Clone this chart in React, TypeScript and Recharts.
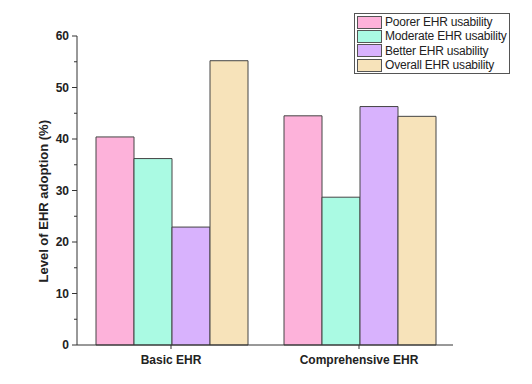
import React from 'react';
import { BarChart, Bar, XAxis, YAxis } from 'recharts';

const categories = ['Basic EHR', 'Comprehensive EHR'];
const poorer = [40.4, 44.5];
const moderate = [36.2, 28.7];
const better = [22.9, 46.3];
const overall = [55.2, 44.4];
const yTicks = [0, 5, 10, 15, 20, 25, 30, 35, 40, 45, 50, 55, 60];

const series = [
  { key: 'poorer', name: 'Poorer EHR usability', color: '#FDB2DA' },
  { key: 'moderate', name: 'Moderate EHR usability', color: '#AAFAE3' },
  { key: 'better', name: 'Better EHR usability', color: '#D8B2FD' },
  { key: 'overall', name: 'Overall EHR usability', color: '#F7E3BA' },
];

const data = categories.map((c, i) => ({
  category: c,
  poorer: poorer[i],
  moderate: moderate[i],
  better: better[i],
  overall: overall[i],
}));

const FONT = '"Liberation Sans", Arial, sans-serif';
const AXIS = '#333';

const YTick = (props: any) => {
  const { x, y, payload } = props;
  const major = payload.value % 10 === 0;
  return (
    <g>
      <line x1={x} x2={x - (major ? 5 : 3)} y1={y} y2={y} stroke={AXIS} />
      {major && (
        <text x={x - 8} y={y + 4} textAnchor="end" fontSize={12} fontWeight="bold" fill="#222" fontFamily={FONT}>
          {payload.value}
        </text>
      )}
    </g>
  );
};

const LegendBox = () => (
  <div
    style={{
      position: 'absolute',
      left: 354,
      top: 13,
      border: '1px solid #555',
      padding: '1px 2px',
      background: '#fff',
      fontFamily: FONT,
      fontSize: 12,
      color: '#222',
      width: 150,
    }}
  >
    {series.map((s) => (
      <div key={s.key} style={{ display: 'flex', alignItems: 'center', height: 14.3 }}>
        <span
          style={{
            display: 'inline-block',
            width: 25,
            height: 13,
            background: s.color,
            border: '1px solid #555',
            boxSizing: 'border-box',
            marginRight: 3,
          }}
        />
        <span style={{ letterSpacing: -0.2 }}>{s.name}</span>
      </div>
    ))}
  </div>
);

export default function App() {
  return (
    <div style={{ position: 'absolute', left: 0, top: 0, width: 532, height: 384, background: '#fff' }}>
      <BarChart
        width={532}
        height={384}
        data={data}
        margin={{ top: 36, right: 79, bottom: 9, left: 0 }}
        barCategoryGap={19}
        barGap={0}
      >
        <XAxis
          dataKey="category"
          height={30}
          stroke={AXIS}
          tickSize={4}
          tick={{ fontSize: 12, fontWeight: 'bold', fill: '#222', fontFamily: FONT }}
          tickMargin={6}
        />
        <YAxis
          width={77}
          domain={[0, 60]}
          ticks={yTicks}
          interval={0}
          stroke={AXIS}
          tickLine={false}
          tickSize={0}
          tickMargin={0}
          tick={<YTick />}
          label={{
            value: 'Level of EHR adoption (%)',
            angle: -90,
            position: 'insideLeft',
            dx: 38,
            dy: 92,
            style: { fontSize: 13, fontWeight: 'bold', fill: '#222', fontFamily: FONT },
          }}
        />
        {series.map((s) => (
          <Bar
            key={s.key}
            dataKey={s.key}
            name={s.name}
            fill={s.color}
            stroke="#444"
            strokeWidth={1}
            isAnimationActive={false}
          />
        ))}
      </BarChart>
      <LegendBox />
    </div>
  );
}
